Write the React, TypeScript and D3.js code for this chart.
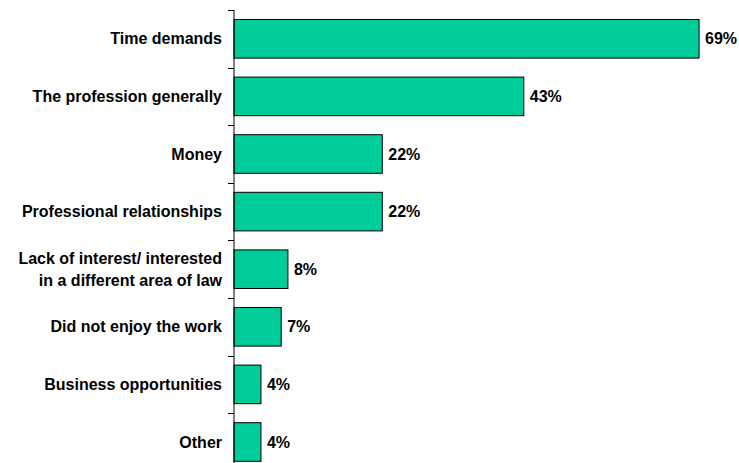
import { useRef, useEffect } from 'react';
import * as d3 from 'd3';

const categories: string[][] = [
  ['Time demands'],
  ['The profession generally'],
  ['Money'],
  ['Professional relationships'],
  ['Lack of interest/ interested', 'in a different area of law'],
  ['Did not enjoy the work'],
  ['Business opportunities'],
  ['Other'],
];
const values = [69, 43, 22, 22, 8, 7, 4, 4];

export default function App() {
  const svgRef = useRef<SVGSVGElement | null>(null);
  const width = 739;
  const height = 463;

  useEffect(() => {
    const svg = d3.select(svgRef.current);
    svg.selectAll('*').remove();

    // 軸的位置
    const axisX = 234;
    const top = 10;
    const step = 57.6;
    const idx = categories.map((_, i) => i);

    const y = d3.scaleBand<number>()
      .domain(idx)
      .range([top, top + step * categories.length])
      .paddingInner(0.33)
      .paddingOuter(0.165);

    const x = d3.scaleLinear()
      .domain([0, 100])
      .range([axisX, axisX + 674]);

    const font = 'Liberation Sans, Arial, sans-serif';

    // 橫條
    svg.append('g')
      .selectAll('rect')
      .data(values)
      .join('rect')
      .attr('x', x(0))
      .attr('y', (_, i) => y(i)!)
      .attr('width', d => x(d) - x(0))
      .attr('height', y.bandwidth())
      .attr('fill', '#00CC99')
      .attr('stroke', '#000')
      .attr('stroke-width', 1);

    // 數值標籤
    svg.append('g')
      .selectAll('text')
      .data(values)
      .join('text')
      .attr('x', d => x(d) + 6)
      .attr('y', (_, i) => y(i)! + y.bandwidth() / 2)
      .attr('dy', '0.35em')
      .attr('font-family', font)
      .attr('font-weight', 'bold')
      .attr('font-size', 16)
      .attr('fill', '#000')
      .text(d => `${d}%`);

    // 類別標籤
    const lab = svg.append('g');
    categories.forEach((lines, i) => {
      const cy = y(i)! + y.bandwidth() / 2;
      const lh = 21.5;
      const t = lab.append('text')
        .attr('text-anchor', 'end')
        .attr('font-family', font)
        .attr('font-weight', 'bold')
        .attr('font-size', 16)
        .attr('fill', '#000');
      lines.forEach((s, j) => {
        t.append('tspan')
          .attr('x', 222)
          .attr('y', cy + (j - (lines.length - 1) / 2) * lh)
          .attr('dy', '0.35em')
          .text(s);
      });
    });

    // Y 軸線與刻度
    const ax = svg.append('g').attr('stroke', '#000').attr('stroke-width', 1);
    ax.append('line')
      .attr('x1', axisX).attr('x2', axisX)
      .attr('y1', top).attr('y2', height);
    d3.range(categories.length).forEach(i => {
      const ty = Math.round(top + i * step) + 0.5;
      ax.append('line')
        .attr('x1', axisX - 6).attr('x2', axisX)
        .attr('y1', ty).attr('y2', ty);
    });
  }, []);

  return (
    <svg
      ref={svgRef}
      width={width}
      height={height}
      style={{ position: 'absolute', left: 0, top: 0, background: '#fff' }}
    />
  );
}
